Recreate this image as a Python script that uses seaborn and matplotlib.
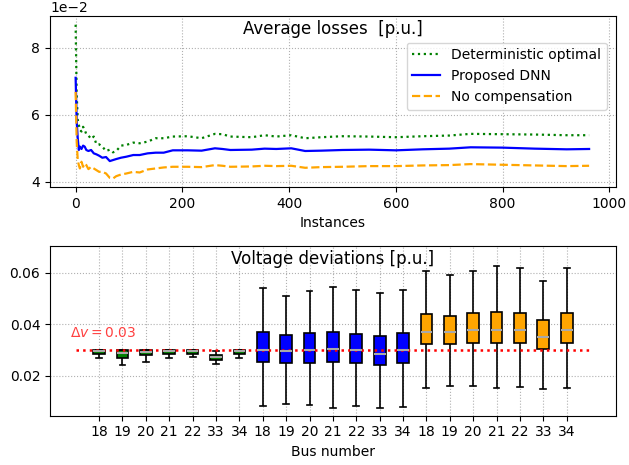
import numpy as np
import pandas as pd
import matplotlib
matplotlib.use("Agg")
import matplotlib.pyplot as plt
import seaborn as sns

# ---------------- data: average losses (x 1e-2) ----------------
instances = [0, 2, 4, 6, 8, 11, 14, 17, 20, 24, 29, 34, 39, 44, 50, 57, 64, 70, 76, 85,
             95, 108, 120, 135, 150, 165, 182, 210, 236, 261, 275, 290, 330, 354, 376,
             404, 430, 460, 500, 550, 600, 650, 700, 740, 800, 860, 920, 962]
det_optimal = [8.68, 6.6, 5.85, 5.7, 5.55, 5.5, 5.64, 5.55, 5.42, 5.38, 5.28, 5.35, 5.12,
               5.12, 5.05, 4.92, 4.96, 4.88, 4.92, 5.08, 5.1, 5.17, 5.15, 5.2, 5.3, 5.3,
               5.35, 5.36, 5.3, 5.43, 5.42, 5.35, 5.33, 5.39, 5.35, 5.39, 5.3, 5.33, 5.36,
               5.35, 5.33, 5.36, 5.38, 5.43, 5.42, 5.41, 5.39, 5.39]
proposed_dnn = [7.1, 5.8, 5.3, 4.95, 5.05, 4.98, 5.08, 5.05, 4.95, 4.92, 4.95, 4.85, 4.82,
                4.78, 4.72, 4.74, 4.62, 4.65, 4.68, 4.72, 4.75, 4.8, 4.8, 4.85, 4.87, 4.87,
                4.94, 4.94, 4.93, 5.0, 4.98, 4.95, 4.96, 4.99, 4.98, 5.0, 4.92, 4.93, 4.95,
                4.96, 4.94, 4.97, 4.99, 5.03, 5.02, 4.99, 4.97, 4.98]
no_comp = [6.68, 5.2, 4.65, 4.5, 4.4, 4.6, 4.45, 4.55, 4.5, 4.38, 4.45, 4.4, 4.35, 4.3, 4.3,
           4.25, 4.12, 4.1, 4.17, 4.22, 4.25, 4.3, 4.28, 4.37, 4.4, 4.43, 4.45, 4.45, 4.44,
           4.5, 4.48, 4.45, 4.46, 4.48, 4.47, 4.48, 4.42, 4.44, 4.45, 4.47, 4.47, 4.49, 4.5,
           4.53, 4.51, 4.49, 4.47, 4.48]

# ---------------- data: voltage deviations (five-number summaries) ----------------
buses = ["18", "19", "20", "21", "22", "33", "34"]
groups = ["Deterministic optimal", "Proposed DNN", "No compensation"]
# [min, q1, median, q3, max] per bus
det_stats = [
    [0.0268, 0.0285, 0.0295, 0.0301, 0.0301],
    [0.0241, 0.0269, 0.0288, 0.0301, 0.0301],
    [0.0254, 0.0281, 0.0293, 0.0301, 0.0301],
    [0.0268, 0.0284, 0.0295, 0.0301, 0.0301],
    [0.0273, 0.0286, 0.0295, 0.0300, 0.0302],
    [0.0248, 0.0262, 0.0272, 0.0280, 0.0297],
    [0.0268, 0.0284, 0.0295, 0.0301, 0.0301],
]
dnn_stats = [
    [0.0084, 0.0255, 0.0301, 0.0371, 0.0542],
    [0.0093, 0.0250, 0.0297, 0.0360, 0.0511],
    [0.0089, 0.0251, 0.0301, 0.0368, 0.0528],
    [0.0077, 0.0253, 0.0304, 0.0371, 0.0546],
    [0.0084, 0.0249, 0.0301, 0.0364, 0.0533],
    [0.0077, 0.0241, 0.0285, 0.0356, 0.0523],
    [0.0081, 0.0251, 0.0301, 0.0368, 0.0534],
]
nocomp_stats = [
    [0.0152, 0.0324, 0.0369, 0.0440, 0.0608],
    [0.0163, 0.0324, 0.0369, 0.0431, 0.0592],
    [0.0163, 0.0329, 0.0379, 0.0443, 0.0608],
    [0.0152, 0.0329, 0.0379, 0.0447, 0.0626],
    [0.0159, 0.0329, 0.0379, 0.0443, 0.0617],
    [0.0149, 0.0303, 0.0352, 0.0416, 0.0569],
    [0.0155, 0.0329, 0.0379, 0.0443, 0.0617],
]
dv_limit = 0.03

colors = {"Deterministic optimal": "green", "Proposed DNN": "blue", "No compensation": "orange"}

# ---------------- figure ----------------
fig = plt.figure(figsize=(6.29, 4.65), dpi=100)
ax1 = fig.add_axes([0.0795, 0.598, 0.8995, 0.3676])
ax2 = fig.add_axes([0.0795, 0.106, 0.8995, 0.3656])

# top plot
scale = 1e-2
line_df = pd.DataFrame({
    "inst": instances * 3,
    "val": np.concatenate([np.array(det_optimal), np.array(proposed_dnn), np.array(no_comp)]) * scale,
    "grp": [groups[0]] * len(instances) + [groups[1]] * len(instances) + [groups[2]] * len(instances),
})
styles = {"Deterministic optimal": ":", "Proposed DNN": "-", "No compensation": "--"}
for g in groups:
    sub = line_df[line_df["grp"] == g]
    sns.lineplot(data=sub, x="inst", y="val", ax=ax1, color=colors[g], linestyle=styles[g],
                 linewidth=1.6, label=g, estimator=None, sort=False)
ax1.set_xlim(-48, 1012)
ax1.set_ylim(0.0385, 0.0894)
ax1.set_xticks([0, 200, 400, 600, 800, 1000])
ax1.set_yticks([0.04, 0.06, 0.08])
ax1.ticklabel_format(axis="y", style="sci", scilimits=(0, 0))
ax1.grid(True, linestyle=":", color="#b0b0b0")
ax1.set_xlabel("Instances", fontsize=10)
ax1.set_ylabel("")
ax1.text(0.5, 0.975, "Average losses  [p.u.]", transform=ax1.transAxes,
         ha="center", va="top", fontsize=12)
ax1.legend(loc="upper right", bbox_to_anchor=(0.996, 0.885), fontsize=10, framealpha=0.8)

# bottom plot
rows = []
for g, stats in zip(groups, [det_stats, dnn_stats, nocomp_stats]):
    for b, s in zip(buses, stats):
        for v in s:
            rows.append({"cat": g[:3] + b, "bus": b, "grp": g, "val": v})
box_df = pd.DataFrame(rows)
order = list(dict.fromkeys(box_df["cat"]))
sns.boxplot(data=box_df, x="cat", y="val", hue="grp", order=order, hue_order=groups,
            palette=colors, dodge=False, width=0.5, whis=np.inf, saturation=1,
            linecolor="black", linewidth=1.2, legend=False, ax=ax2,
            medianprops={"color": "darkgray", "linewidth": 1.5})
ax2.set_xticks(range(len(order)))
ax2.set_xticklabels([c[3:] for c in order], fontsize=10)
ax2.hlines(dv_limit, -1, len(order), colors="red", linestyles=":", linewidth=1.8)
ax2.set_xlim(-2.1, len(order) + 1.1)
ax2.set_ylim(0.0046, 0.0705)
ax2.set_yticks([0.02, 0.04, 0.06])
ax2.grid(True, linestyle=":", color="#b0b0b0")
ax2.set_axisbelow(True)
ax2.set_xlabel("Bus number", fontsize=10)
ax2.set_ylabel("")
ax2.text(-1.25, 0.0352, r"$\Delta v = 0.03$", color="#ff4040", fontsize=10)
ax2.text(0.5, 0.975, "Voltage deviations [p.u.]", transform=ax2.transAxes,
         ha="center", va="top", fontsize=12)
for ax in (ax1, ax2):
    ax.tick_params(labelsize=10)

fig.savefig("out.png", dpi=100)
